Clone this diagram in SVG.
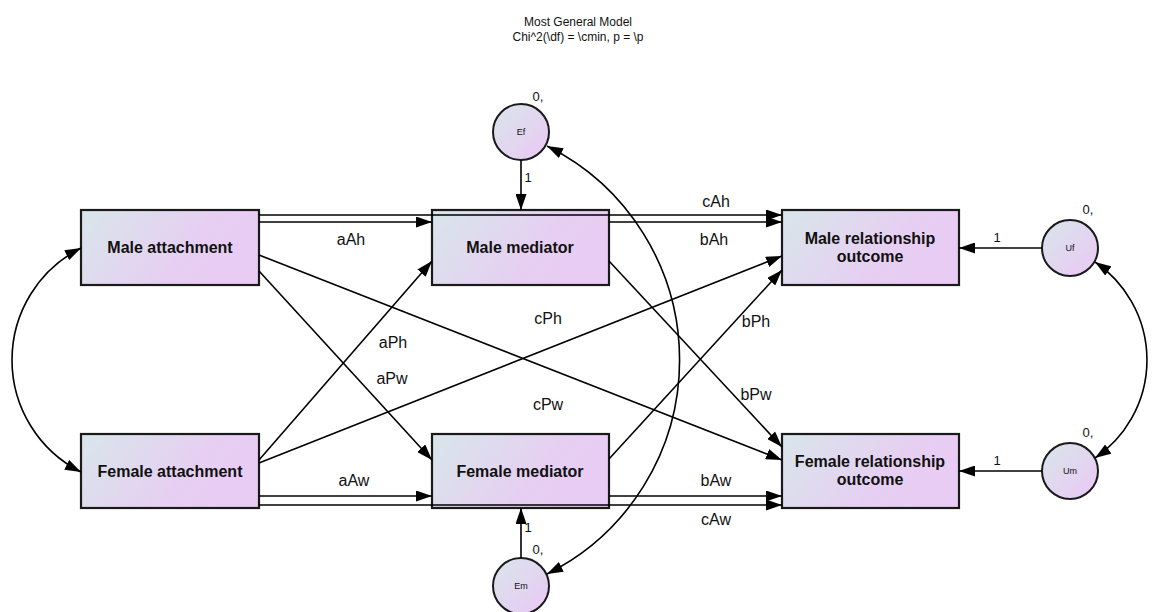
<svg xmlns="http://www.w3.org/2000/svg" width="1154" height="612" viewBox="0 0 1154 612">
  <defs>
    <linearGradient id="fill" x1="0" y1="0" x2="1" y2="0.35">
      <stop offset="0" stop-color="#d8e6ea"/>
      <stop offset="0.7" stop-color="#e6cff2"/>
      <stop offset="1" stop-color="#e9ccf4"/>
    </linearGradient>
    <linearGradient id="cfill" x1="0" y1="0" x2="1" y2="1">
      <stop offset="0" stop-color="#d8e6ea"/>
      <stop offset="0.75" stop-color="#e6cff2"/>
      <stop offset="1" stop-color="#e9ccf4"/>
    </linearGradient>
    <marker id="arrow" viewBox="0 0 16 11" refX="16" refY="5.5" markerWidth="16" markerHeight="11" markerUnits="userSpaceOnUse" orient="auto-start-reverse">
      <path d="M0,0 L16,5.5 L0,11 z" fill="#000"/>
    </marker>
    <style>
      .box { fill: url(#fill); stroke: #1a1a1a; stroke-width: 2.2; }
      .circ { fill: url(#cfill); stroke: #1a1a1a; stroke-width: 2; }
      .name { font-family: "Liberation Sans", Arial, sans-serif; font-weight: bold; font-size: 16px; fill: #111; text-anchor: middle; }
      .small { font-family: "Liberation Sans", Arial, sans-serif; font-size: 9px; fill: #111; text-anchor: middle; }
      .lab { font-family: "Liberation Sans", Arial, sans-serif; font-size: 16px; fill: #111; text-anchor: middle; }
      .num { font-family: "Liberation Sans", Arial, sans-serif; font-size: 13px; fill: #111; text-anchor: middle; }
      .title { font-family: "Liberation Sans", Arial, sans-serif; font-size: 12px; fill: #111; text-anchor: middle; }
      .path { fill: none; stroke: #000; stroke-width: 1.6; marker-end: url(#arrow); }
      .both { fill: none; stroke: #000; stroke-width: 1.6; marker-start: url(#arrow); marker-end: url(#arrow); }
    </style>
  </defs>

  <rect width="1154" height="612" fill="#fff"/>

  <!-- model title -->
  <g id="title">
    <text class="title" x="578" y="26">Most General Model</text>
    <text class="title" x="578" y="41">Chi^2(\df) = \cmin, p = \p</text>
  </g>

  <!-- observed variables -->
  <g id="male-attachment">
    <rect class="box" x="81" y="210" width="178" height="75"/>
    <text class="name" x="170" y="253">Male attachment</text>
  </g>
  <g id="female-attachment">
    <rect class="box" x="81" y="434" width="178" height="74"/>
    <text class="name" x="170" y="477">Female attachment</text>
  </g>
  <g id="male-mediator">
    <rect class="box" x="432" y="210" width="177" height="75"/>
    <text class="name" x="520" y="253">Male mediator</text>
  </g>
  <g id="female-mediator">
    <rect class="box" x="432" y="434" width="177" height="74"/>
    <text class="name" x="520" y="477">Female mediator</text>
  </g>
  <g id="male-outcome">
    <rect class="box" x="782" y="210" width="177" height="75"/>
    <text class="name" x="870" y="244">Male relationship</text>
    <text class="name" x="870" y="262">outcome</text>
  </g>
  <g id="female-outcome">
    <rect class="box" x="782" y="434" width="177" height="74"/>
    <text class="name" x="870" y="467">Female relationship</text>
    <text class="name" x="870" y="485">outcome</text>
  </g>

  <!-- error terms -->
  <g id="Ef">
    <circle class="circ" cx="521" cy="132" r="28"/>
    <text class="small" x="521" y="135">Ef</text>
    <text class="num" x="538" y="101">0,</text>
  </g>
  <g id="Em">
    <circle class="circ" cx="521" cy="586" r="28"/>
    <text class="small" x="521" y="589">Em</text>
    <text class="num" x="538" y="554">0,</text>
  </g>
  <g id="Uf">
    <circle class="circ" cx="1070" cy="248" r="28"/>
    <text class="small" x="1070" y="251">Uf</text>
    <text class="num" x="1088" y="214">0,</text>
  </g>
  <g id="Um">
    <circle class="circ" cx="1070" cy="471" r="28"/>
    <text class="small" x="1070" y="474">Um</text>
    <text class="num" x="1088" y="437">0,</text>
  </g>

  <!-- paths and covariances -->
  <g id="connectors">
    <!-- direct paths along the top and bottom rows -->
    <line class="path" x1="259" y1="215" x2="782" y2="215"/>
    <line class="path" x1="259" y1="222" x2="432" y2="222"/>
    <line class="path" x1="609" y1="222" x2="782" y2="222"/>
    <line class="path" x1="259" y1="496" x2="432" y2="496"/>
    <line class="path" x1="609" y1="496" x2="782" y2="496"/>
    <line class="path" x1="259" y1="505" x2="782" y2="505"/>
    <!-- crossed partner paths -->
    <line class="path" x1="259" y1="271" x2="432" y2="460"/>
    <line class="path" x1="259" y1="255" x2="782" y2="460"/>
    <line class="path" x1="259" y1="460" x2="432" y2="261"/>
    <line class="path" x1="259" y1="463" x2="782" y2="256"/>
    <line class="path" x1="609" y1="261" x2="782" y2="447"/>
    <line class="path" x1="609" y1="459" x2="782" y2="270"/>
    <!-- error loadings -->
    <line class="path" x1="521" y1="160" x2="521" y2="210"/>
    <line class="path" x1="521" y1="558" x2="521" y2="508"/>
    <line class="path" x1="1042" y1="248" x2="959" y2="248"/>
    <line class="path" x1="1042" y1="471" x2="959" y2="471"/>
    <!-- covariances -->
    <path class="both" d="M81,248 A125.4,125.4 0 0 0 81,472"/>
    <path class="both" d="M1095,262 A118.4,118.4 0 0 1 1095,458"/>
    <path class="both" d="M547,146 A239,239 0 0 1 547,574"/>

    <!-- path labels -->
    <text class="lab" x="351" y="245">aAh</text>
    <text class="lab" x="716" y="207">cAh</text>
    <text class="lab" x="714" y="245">bAh</text>
    <text class="lab" x="548" y="324">cPh</text>
    <text class="lab" x="393" y="348">aPh</text>
    <text class="lab" x="392" y="384">aPw</text>
    <text class="lab" x="756" y="327">bPh</text>
    <text class="lab" x="756" y="400">bPw</text>
    <text class="lab" x="548" y="410">cPw</text>
    <text class="lab" x="354" y="486">aAw</text>
    <text class="lab" x="716" y="486">bAw</text>
    <text class="lab" x="716" y="525">cAw</text>
    <text class="num" x="528" y="182">1</text>
    <text class="num" x="528" y="532">1</text>
    <text class="num" x="997" y="242">1</text>
    <text class="num" x="997" y="465">1</text>
  </g>
</svg>
